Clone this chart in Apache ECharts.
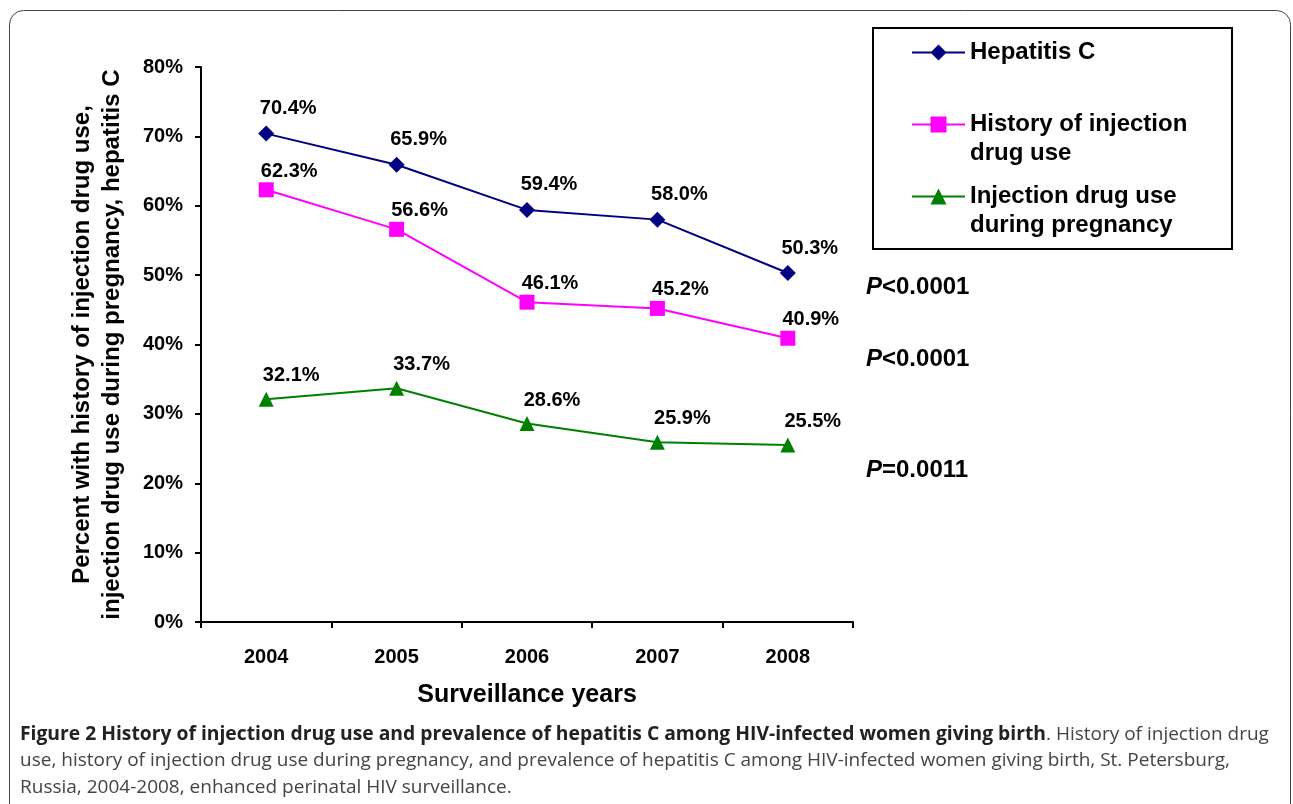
<!DOCTYPE html>
<html>
<head>
<meta charset="utf-8">
<script src="https://cdn.jsdelivr.net/npm/echarts@6/dist/echarts.min.js"></script>
<style>
html,body{margin:0;padding:0;background:#fff;}
#chart{width:1293px;height:804px;}
</style>
</head>
<body>
<div id="chart"></div>
<script>
const years = ['2004', '2005', '2006', '2007', '2008'];
const hepatitisC = [70.4, 65.9, 59.4, 58.0, 50.3];
const historyIDU = [62.3, 56.6, 46.1, 45.2, 40.9];
const pregnancyIDU = [32.1, 33.7, 28.6, 25.9, 25.5];
const seriesNames = ['Hepatitis C', 'History of injection\ndrug use', 'Injection drug use\nduring pregnancy'];
const pValues = ['<0.0001', '<0.0001', '=0.0011'];
const yTicks = [0, 10, 20, 30, 40, 50, 60, 70, 80];

const FONT = 'Liberation Sans, Arial, sans-serif';
const chart = echarts.init(document.getElementById('chart'));

function labelCfg(offset) {
  return {
    show: true, position: 'top', distance: 5, offset: offset,
    fontFamily: FONT, fontWeight: 'bold', fontSize: 20, color: '#000',
    formatter: p => p.value.toFixed(1) + '%'
  };
}

function legendCfg(name, top, twoLines) {
  return {
    data: [name], left: 911, top: top, orient: 'vertical', padding: 0,
    itemWidth: 53, itemHeight: 20, selectedMode: false,
    formatter: n => (twoLines ? '\n' + n : n),
    textStyle: {
      fontFamily: FONT, fontWeight: 'bold', fontSize: 24, color: '#000',
      lineHeight: 29
    }
  };
}

function pText(idx, top) {
  return { type: 'text', left: 866, top: top,
    style: { text: '{i|P}{n|' + pValues[idx] + '}', rich: {
      i: { fontFamily: FONT, fontWeight: 'bold', fontStyle: 'italic', fontSize: 24, fill: '#000' },
      n: { fontFamily: FONT, fontWeight: 'bold', fontSize: 24, fill: '#000' } } } };
}

const option = {
  backgroundColor: '#fff',
  animation: false,
  grid: { left: 201, right: 440, top: 67, bottom: 182, containLabel: false },
  legend: [
    legendCfg(seriesNames[0], 38, false),
    legendCfg(seriesNames[1], 81, true),
    legendCfg(seriesNames[2], 153, true)
  ],
  xAxis: {
    type: 'category', data: years, boundaryGap: true,
    name: 'Surveillance years', nameLocation: 'middle', nameGap: 61,
    nameTextStyle: { fontFamily: FONT, fontWeight: 'bold', fontSize: 25, color: '#000' },
    axisLine: { lineStyle: { color: '#000', width: 2 } },
    axisTick: { show: true, length: 6, alignWithLabel: false, lineStyle: { color: '#000', width: 2 } },
    axisLabel: { fontFamily: FONT, fontWeight: 'bold', fontSize: 20, color: '#000', margin: 25 },
    splitLine: { show: false }
  },
  yAxis: {
    type: 'value', min: 0, max: 80, interval: 10,
    name: 'Percent with history of injection drug use,\ninjection drug use during pregnancy, hepatitis C',
    nameLocation: 'middle', nameGap: 74,
    nameTextStyle: { fontFamily: FONT, fontWeight: 'bold', fontSize: 24, color: '#000', lineHeight: 30 },
    axisLine: { show: true, lineStyle: { color: '#000', width: 2 } },
    axisTick: { show: true, length: 6, lineStyle: { color: '#000', width: 2 } },
    axisLabel: { fontFamily: FONT, fontWeight: 'bold', fontSize: 20, color: '#000', margin: 18,
      formatter: v => (yTicks.includes(v) ? v + '%' : '') },
    splitLine: { show: false }
  },
  series: [
    {
      name: seriesNames[0], type: 'line', data: hepatitisC,
      symbol: 'diamond', symbolSize: 16,
      itemStyle: { color: '#000080' }, lineStyle: { color: '#000080', width: 2 },
      label: labelCfg([22, -2])
    },
    {
      name: seriesNames[1], type: 'line', data: historyIDU,
      symbol: 'rect', symbolSize: 15,
      itemStyle: { color: '#ff00ff' }, lineStyle: { color: '#ff00ff', width: 2 },
      label: labelCfg([23, 4])
    },
    {
      name: seriesNames[2], type: 'line', data: pregnancyIDU,
      symbol: 'triangle', symbolSize: 15,
      itemStyle: { color: '#008000' }, lineStyle: { color: '#008000', width: 2 },
      label: labelCfg([25, -1])
    }
  ],
  graphic: [
    { type: 'rect', shape: { x: 9.5, y: 10.5, width: 1281, height: 820, r: 14 },
      style: { fill: 'none', stroke: '#444', lineWidth: 1 }, silent: true, z: -1 },
    { type: 'rect', shape: { x: 873, y: 28, width: 359, height: 221 },
      style: { fill: 'none', stroke: '#000', lineWidth: 2 }, silent: true },
    pText(0, 275),
    pText(1, 347),
    pText(2, 458),
    { type: 'text', left: 20, top: 725,
      style: {
        text: '{b|Figure 2 History of injection drug use and prevalence of hepatitis C among HIV-infected women giving birth}{r|. History of injection drug}\n{r|use, history of injection drug use during pregnancy, and prevalence of hepatitis C among HIV-infected women giving birth, St. Petersburg,}\n{r|Russia, 2004-2008, enhanced perinatal HIV surveillance.}',
        rich: {
          b: { fontFamily: 'Open Sans', fontWeight: 'bold', fontSize: 19.3, fill: '#222', lineHeight: 26.5 },
          r: { fontFamily: 'Open Sans', fontSize: 19, fill: '#444', lineHeight: 26.5 }
        }
      } }
  ]
};
chart.setOption(option);
</script>
</body>
</html>
